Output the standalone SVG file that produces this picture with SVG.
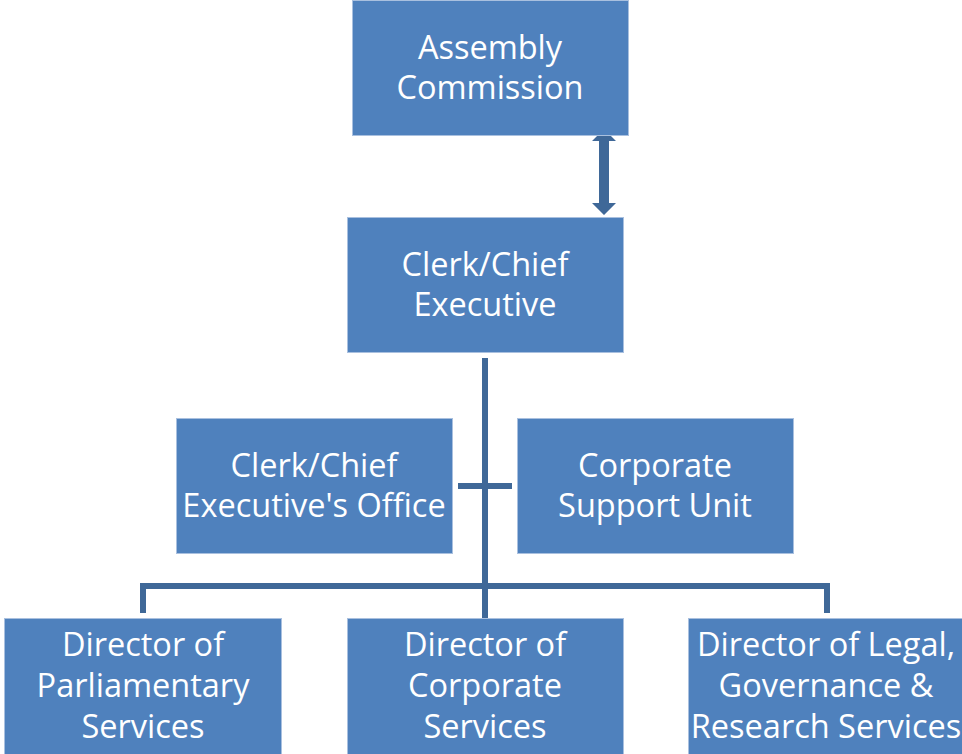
<svg xmlns="http://www.w3.org/2000/svg" width="962" height="754" viewBox="0 0 962 754">
<defs>
<style>
.box{fill:#4f81bd;stroke:#a9c0df;stroke-width:1}
.t{font-family:"Open Sans","Noto Sans","Liberation Sans",sans-serif;font-size:32.5px;fill:#ffffff;text-anchor:middle}
.c{stroke:#3f6898;stroke-width:6;fill:none}
</style>
</defs>
<rect width="962" height="754" fill="#ffffff"/>
<g id="connectors">
<path class="c" d="M485 358V754"/>
<path class="c" d="M458 486H512"/>
<path class="c" d="M143 613V586H827V613"/>
<path d="M604 129L616 141H609V203H616L604 215L592 203H599V141H592Z" fill="#3f6898"/>
</g>
<g id="assembly-commission">
<rect class="box" x="352.5" y="0.5" width="276" height="135"/>
<text class="t" x="490" y="59">Assembly</text>
<text class="t" x="490" y="99">Commission</text>
</g>
<g id="clerk-chief-executive">
<rect class="box" x="347.5" y="217.5" width="276" height="135"/>
<text class="t" x="485" y="276">Clerk/Chief</text>
<text class="t" x="485" y="316">Executive</text>
</g>
<g id="clerk-office">
<rect class="box" x="176.5" y="418.5" width="276" height="135"/>
<text class="t" x="314" y="477">Clerk/Chief</text>
<text class="t" x="314" y="517">Executive's Office</text>
</g>
<g id="corporate-support-unit">
<rect class="box" x="517.5" y="418.5" width="276" height="135"/>
<text class="t" x="655" y="477">Corporate</text>
<text class="t" x="655" y="517">Support Unit</text>
</g>
<g id="director-parliamentary">
<rect class="box" x="4.5" y="618.5" width="277" height="140"/>
<text class="t" x="143" y="656">Director of</text>
<text class="t" x="143" y="697">Parliamentary</text>
<text class="t" x="143" y="738">Services</text>
</g>
<g id="director-corporate">
<rect class="box" x="347.5" y="618.5" width="276" height="140"/>
<text class="t" x="485" y="656">Director of</text>
<text class="t" x="485" y="697">Corporate</text>
<text class="t" x="485" y="738">Services</text>
</g>
<g id="director-legal">
<rect class="box" x="688.5" y="618.5" width="280" height="140"/>
<text class="t" x="826" y="656">Director of Legal,</text>
<text class="t" x="826" y="697">Governance &amp;</text>
<text class="t" x="826" y="738">Research Services</text>
</g>
</svg>
